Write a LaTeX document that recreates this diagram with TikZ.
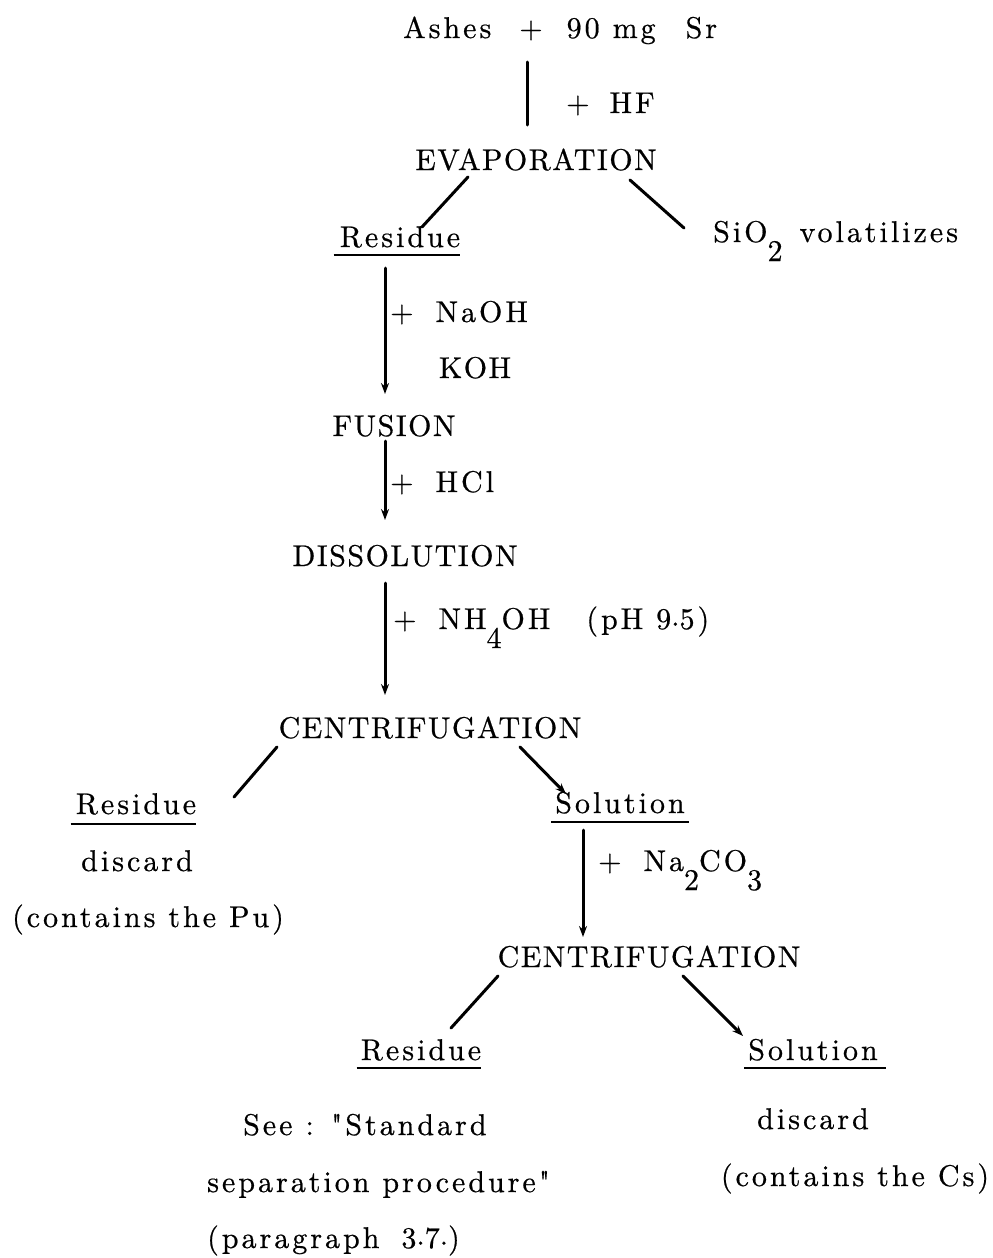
\documentclass[tikz,border=0pt]{standalone}
\usepackage{fontspec}
\usetikzlibrary{arrows.meta}
% spaced type: capitals a little, mixed text a little more
\newfontfamily\capfam{lmroman10-regular.otf}[LetterSpace=5,FakeBold=0.6]
\newfontfamily\lowfam{lmroman10-regular.otf}[LetterSpace=10,FakeBold=0.6]
\newcommand\dn[1]{\raisebox{-19pt}{#1}}
\newcommand\tdot{\raisebox{0.25ex}{.}}
\begin{document}
\begin{tikzpicture}[x=1pt,y=-1pt,
  every node/.style={inner sep=0pt},
  caps/.style={font=\fontsize{30}{34}\selectfont\capfam, anchor=base},
  txt/.style={font=\fontsize{30}{34}\selectfont\lowfam, anchor=base},
  reag/.style={txt, anchor=base west},
  link/.style={line width=3pt, line cap=round},
  flow/.style={link, -{Stealth[length=11pt,width=8pt]}},
  rule/.style={line width=1.8pt}]
\useasboundingbox (0,0) rectangle (993,1258);

% ---------- texts ----------
\node[reag] (start) at (403,38) {Ashes\hspace{28pt}+\hspace{24pt}90 mg\hspace{30pt}Sr};
\node[reag] (hf) at (566,113) {+\hspace{20pt}HF};
\node[caps] (evap) at (536,170) {EVAPORATION};
\node[txt] (res1) at (400,247) {Residue};
\node[reag] (sio) at (713,242) {SiO\dn{2}\hspace{4pt} volatilizes};
\node[reag] (naoh) at (390,322) {+\hspace{22pt}NaOH};
\node[caps] (koh) at (475,378) {KOH};
\node[caps] (fus) at (394,436) {FUSION};
\node[reag] (hcl) at (390,492) {+\hspace{22pt}HCl};
\node[caps] (diss) at (405,566) {DISSOLUTION};
\node[reag] (nh) at (393,629) {+\hspace{22pt}NH\dn{4}OH\hspace{36pt}(pH 9\tdot5)};
\node[caps] (cent1) at (430,738) {CENTRIFUGATION};
\node[txt] (res2) at (136,814) {Residue};
\node[txt] (disc1) at (137,871) {discard};
\node[txt] (pu) at (148,927) {(contains the Pu)};
\node[txt] (sol1) at (620,813) {Solution};
\node[reag] (na) at (598,871) {+\hspace{22pt}Na\dn{2}CO\dn{3}};
\node[caps] (cent2) at (649,967) {CENTRIFUGATION};
\node[txt] (res3) at (421,1060) {Residue};
\node[txt] (sol3) at (813,1060) {Solution};
\node[reag] (see) at (243,1135) {See : "Standard};
\node[reag] (sep) at (207,1192) {separation procedure"};
\node[reag] (par) at (207,1248) {(paragraph\hspace{22pt}3\tdot7\tdot)};
\node[txt] (disc2) at (813,1129) {discard};
\node[txt] (cs) at (855,1186) {(contains the Cs)};

% ---------- underlines ----------
\draw[rule] ([xshift=-6pt,yshift=-8pt]res1.base west) -- ([yshift=-8pt]res1.base east);
\draw[rule] ([xshift=-5pt,yshift=-10pt]res2.base west) -- ([yshift=-10pt]res2.base east);
\draw[rule] ([xshift=-4pt,yshift=-9pt]sol1.base west) -- ([xshift=4pt,yshift=-9pt]sol1.base east);
\draw[rule] ([xshift=-4pt,yshift=-8pt]res3.base west) -- ([yshift=-8pt]res3.base east);
\draw[rule] ([xshift=-4pt,yshift=-8pt]sol3.base west) -- ([xshift=8pt,yshift=-8pt]sol3.base east);

% ---------- connector ends ----------
\coordinate (a0) at (527,62);   \coordinate (a1) at (527,125);
\coordinate (b0) at (468,177);  \coordinate (b1) at (422,227);
\coordinate (c0) at (630,180);  \coordinate (c1) at (684,228);
\coordinate (d0) at (385,268);  \coordinate (d1) at (385,394);
\coordinate (e0) at (385,441);  \coordinate (e1) at (385,520);
\coordinate (f0) at (385,583);  \coordinate (f1) at (385,695);
\coordinate (g0) at (277,747);  \coordinate (g1) at (234,797);
\coordinate (h0) at (520,747);  \coordinate (h1) at (566,794);
\coordinate (i0) at (583,830);  \coordinate (i1) at (583,937);
\coordinate (j0) at (498,976);  \coordinate (j1) at (451,1028);
\coordinate (k0) at (683,976);  \coordinate (k1) at (743,1036);

% ---------- connectors ----------
\draw[link] (a0) -- (a1);
\draw[link] (b0) -- (b1);
\draw[link] (c0) -- (c1);
\draw[flow] (d0) -- (d1);
\draw[flow] (e0) -- (e1);
\draw[flow] (f0) -- (f1);
\draw[link] (g0) -- (g1);
\draw[flow] (h0) -- (h1);
\draw[flow] (i0) -- (i1);
\draw[link] (j0) -- (j1);
\draw[flow] (k0) -- (k1);
\end{tikzpicture}
\end{document}
